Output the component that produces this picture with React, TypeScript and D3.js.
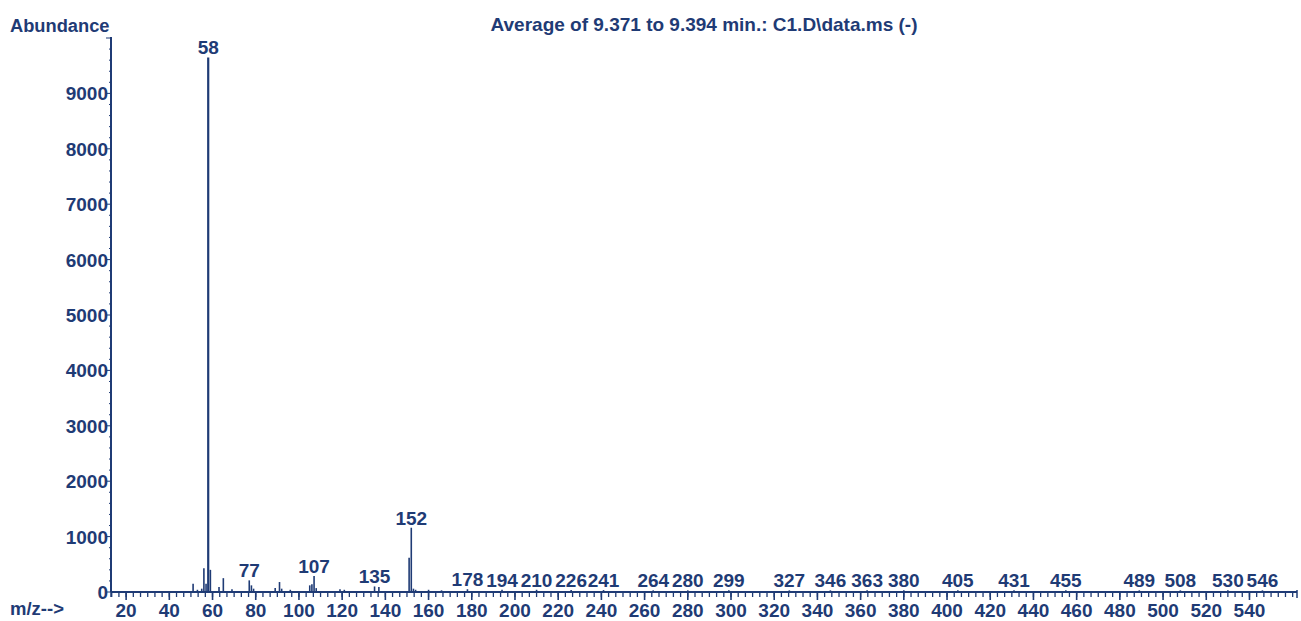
import React from "react";
import * as d3 from "d3";

const mzValues = [51, 53, 55, 56, 57, 58, 59, 63, 65, 69, 77, 78, 79, 89, 91, 92, 96, 105, 106, 107, 108, 119, 121, 135, 137, 151, 152, 153, 154, 160, 166, 178, 194, 210, 226, 241, 264, 280, 299, 327, 346, 363, 380, 405, 431, 455, 489, 508, 530, 546];
const abundances = [150, 40, 60, 430, 150, 9650, 400, 90, 250, 50, 210, 120, 60, 70, 180, 60, 40, 120, 140, 290, 70, 50, 40, 100, 90, 620, 1160, 60, 40, 40, 30, 50, 40, 40, 35, 35, 30, 30, 30, 30, 30, 30, 30, 30, 30, 30, 30, 30, 30, 30];
const labeledMz = [58, 77, 107, 135, 152, 178, 194, 210, 226, 241, 264, 280, 299, 327, 346, 363, 380, 405, 431, 455, 489, 508, 530, 546];
const xTickValues = d3.range(20, 541, 20);
const yTickValues = d3.range(0, 9001, 1000);
const titleText = "Average of 9.371 to 9.394 min.: C1.D\\data.ms (-)";
const yAxisTitle = "Abundance";
const xAxisTitle = "m/z-->";

const W = 1301;
const H = 621;
const COLOR = "#1f3b75";
const FONT = "'Liberation Sans', Arial, Helvetica, sans-serif";
const FS = 19;

export default function App() {
  const x = d3.scaleLinear().domain([13, 562]).range([111, 1297]);
  const y = d3.scaleLinear().domain([0, 10000]).range([592, 38]);
  const minorXTicks = d3.range(0, 562, 20 / 6).filter((v) => v >= 13);
  const minorY = d3.range(0, 10001, 200);
  const peaks = mzValues.map((m, i) => ({ m, v: abundances[i] }));
  const labels = peaks.filter((p) => labeledMz.includes(p.m));
  const textStyle = { fontFamily: FONT, fontWeight: 700, fill: COLOR } as const;

  return (
    <svg width={W} height={H} style={{ position: "absolute", left: 0, top: 0, background: "#fff" }}>
      <rect x={0} y={0} width={W} height={H} fill="#fff" />
      <text x={10} y={32} fontSize={18.3} style={textStyle}>{yAxisTitle}</text>
      <text x={704} y={31} fontSize={FS} textAnchor="middle" style={textStyle}>{titleText}</text>
      {/* y axis */}
      <line x1={111} x2={111} y1={y(10000) - 1} y2={y(0)} stroke={COLOR} strokeWidth={2} />
      {minorY.map((v) => (
        <line key={"ym" + v} x1={111} x2={v % 1000 === 0 ? 106 : 109} y1={y(v)} y2={y(v)} stroke={COLOR} strokeWidth={1} />
      ))}
      {yTickValues.map((v) => (
        <text key={"yt" + v} x={108} y={y(v) + 7} fontSize={FS} textAnchor="end" style={textStyle}>{v}</text>
      ))}
      {/* x axis */}
      <line x1={111} x2={1297} y1={y(0)} y2={y(0)} stroke={COLOR} strokeWidth={2} />
      <line x1={111} x2={111} y1={y(0)} y2={y(0) + 5} stroke={COLOR} strokeWidth={1.5} />
      <line x1={1297} x2={1297} y1={y(0) - 2} y2={y(0) + 6} stroke={COLOR} strokeWidth={1.5} />
      {minorXTicks.map((v, i) => (
        <line key={"xm" + i} x1={x(v)} x2={x(v)} y1={y(0)} y2={y(0) + 5} stroke={COLOR} strokeWidth={1.3} />
      ))}
      {xTickValues.map((v) => (
        <line key={"xM" + v} x1={x(v)} x2={x(v)} y1={y(0)} y2={y(0) + 8} stroke={COLOR} strokeWidth={1.6} />
      ))}
      {xTickValues.map((v) => (
        <text key={"xt" + v} x={x(v)} y={617} fontSize={FS} textAnchor="middle" style={textStyle}>{v}</text>
      ))}
      <text x={10} y={615} fontSize={18.5} style={textStyle}>{xAxisTitle}</text>
      {/* peaks */}
      {peaks.map((p) => (
        <line key={"p" + p.m} x1={x(p.m)} x2={x(p.m)} y1={y(0)} y2={y(p.v)} stroke={COLOR} strokeWidth={p.v > 5000 ? 2.2 : 1.6} />
      ))}
      {labels.map((p) => (
        <text key={"l" + p.m} x={x(p.m)} y={y(p.v) - 3} fontSize={FS} textAnchor="middle" style={textStyle}>{p.m}</text>
      ))}
    </svg>
  );
}
